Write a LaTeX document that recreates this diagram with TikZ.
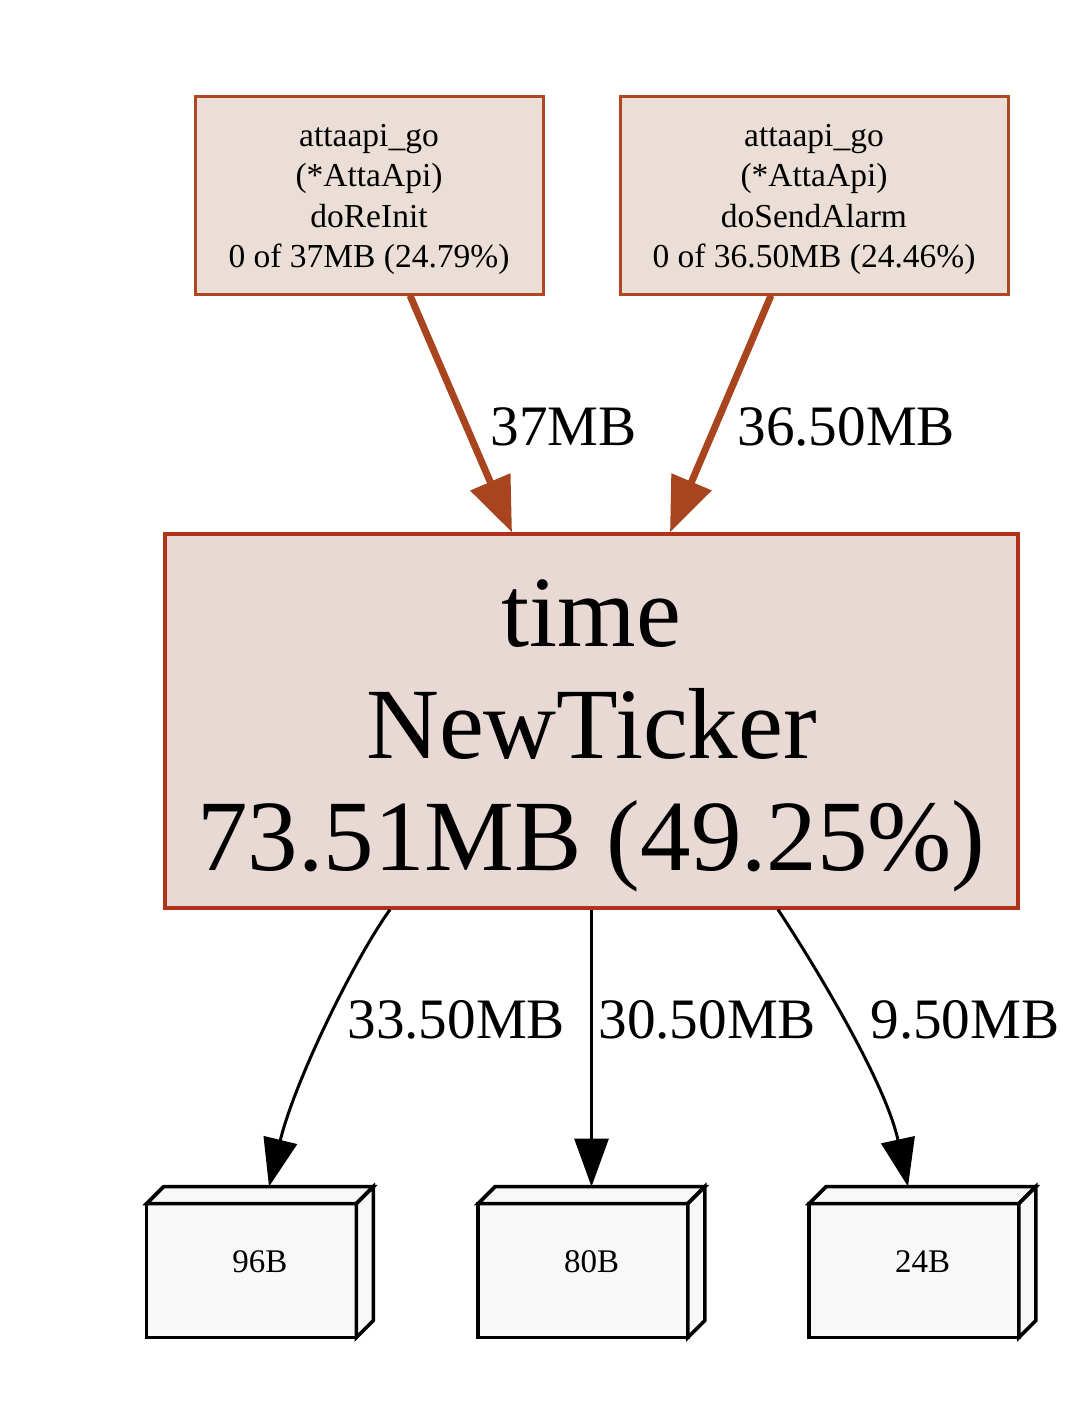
\documentclass[tikz,border=0pt]{standalone}
\usepackage{fontspec}
\setmainfont{Liberation Serif}
\usetikzlibrary{arrows.meta,calc}
\definecolor{topborder}{HTML}{AD4823}
\definecolor{topfill}{HTML}{EBDED6}
\definecolor{mainborder}{HTML}{AF321B}
\definecolor{mainfill}{HTML}{E8D9D5}
\definecolor{hotedge}{HTML}{A8441E}
\definecolor{leaffill}{HTML}{F8F8F8}
\begin{document}
\begin{tikzpicture}[x=0.5pt,y=-0.5pt,
  topbox/.style={draw=topborder,fill=topfill,line width=1.5pt,inner sep=0pt},
  toptext/.style={align=center,inner sep=0pt,font=\fontsize{16.75}{20.25}\selectfont},
  mainbox/.style={draw=mainborder,fill=mainfill,line width=1.6pt,inner sep=0pt},
  maintext/.style={align=center,inner sep=0pt,font=\fontsize{50.5}{56}\selectfont},
  leafbox/.style={inner sep=0pt,font=\fontsize{16.5}{20}\selectfont},
  leafline/.style={draw=black,fill=leaffill,line width=1.8pt,line join=miter},
  hotarrow/.style={draw=hotedge,line width=3.5pt,-{Triangle[length=27.5pt,width=21pt]},hotedge},
  coldarrow/.style={draw=black,line width=1.5pt,-{Triangle[length=24pt,width=17pt]}},
  elabel/.style={inner sep=0pt,anchor=base west,font=\fontsize{28.6}{34}\selectfont}]
\useasboundingbox (0,0) rectangle (1090,1412);

\node[topbox,minimum width=174pt,minimum height=98.5pt] (tl) at (369,195.5) {};
\node[toptext] (tltext) at ($(tl.center)+(0,4)$)
  {attaapi\_go\\(*AttaApi)\\doReInit\\0 of 37MB (24.79\%)};
\node[topbox,minimum width=194pt,minimum height=98.5pt] (tr) at (814,195.5) {};
\node[toptext] (trtext) at ($(tr.center)+(0,4)$)
  {attaapi\_go\\(*AttaApi)\\doSendAlarm\\0 of 36.50MB (24.46\%)};
\node[mainbox,minimum width=426.5pt,minimum height=187pt] (main) at (591.5,721) {};
\node[maintext] (maintxt) at ($(main.center)+(0,15)$)
  {time\\NewTicker\\73.51MB (49.25\%)};

\node[leafbox,minimum width=113pt,minimum height=75pt] (b1) at (260,1262) {};
\node[leafbox,minimum width=113pt,minimum height=75pt] (b2) at (591.5,1262) {};
\node[leafbox,minimum width=113pt,minimum height=75pt] (b3) at (922.5,1262) {};
\foreach \n/\t in {b1/96B,b2/80B,b3/24B}{
  \path[leafline] (\n.south west) rectangle ($(\n.north east)+(-17,17)$);
  \path[leafline] ($(\n.north west)+(0,17)$) -- ($(\n.north west)+(17,0)$) -- (\n.north east)
     -- ($(\n.north east)+(-17,17)$) -- cycle;
  \path[leafline] ($(\n.north east)+(-17,17)$) -- (\n.north east) -- ($(\n.south east)+(0,-17)$)
     -- ($(\n.south east)+(-17,0)$) -- cycle;
  \node[leafbox] (\n label) at (\n.center) {\t};
}

\draw[hotarrow] ($(tl.south)+(41,0)$) -- ($(main.north)+(-79.5,0)$);
\draw[hotarrow] ($(tr.south)+(-43,0)$) -- ($(main.north)+(78.5,0)$);

\draw[coldarrow] ($(main.south)+(-201.5,0)$) .. controls (355,958) and (295,1080) .. ($(b1.north)+(9,0)$);
\draw[coldarrow] (main.south) -- (b2.north);
\draw[coldarrow] ($(main.south)+(186.5,0)$) .. controls (810,958) and (885,1080) .. ($(b3.north)+(-14.5,0)$);

\node[elabel] (l1) at (490,445) {37MB};
\node[elabel] (l2) at (737,445) {36.50MB};
\node[elabel] (l3) at (347,1038) {33.50MB};
\node[elabel] (l4) at (598,1038) {30.50MB};
\node[elabel] (l5) at (870,1038) {9.50MB};
\end{tikzpicture}
\end{document}
